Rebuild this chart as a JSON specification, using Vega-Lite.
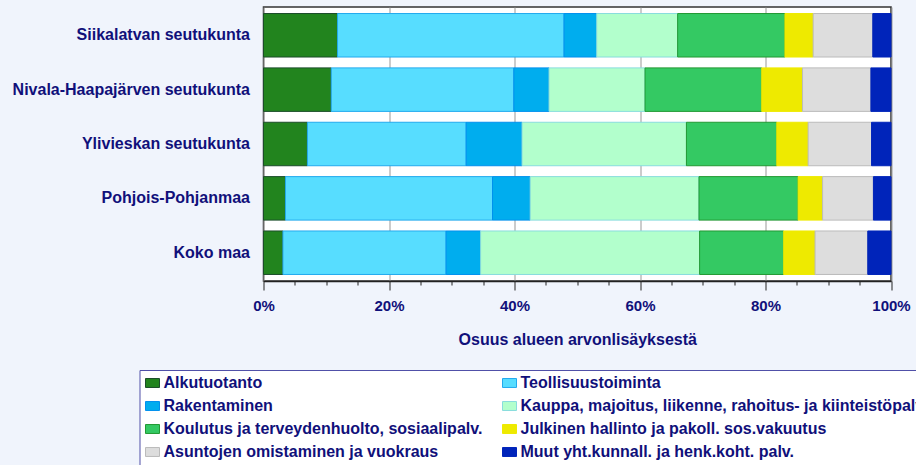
{
  "$schema": "https://vega.github.io/schema/vega-lite/v6.json",
  "autosize": {"type": "none"},
  "width": 627.5,
  "height": 274,
  "padding": {"left": 263.5, "top": 7, "right": 25, "bottom": 184},
  "background": "#F0F4FC",
  "config": {
    "view": {"fill": "white", "stroke": "#333333", "strokeWidth": 1.5},
    "font": "Liberation Sans"
  },
  "data": {
    "values": [
      {"region": "Siikalatvan seutukunta", "sector": "Alkutuotanto", "k": 1, "share": 11.8},
      {"region": "Siikalatvan seutukunta", "sector": "Teollisuustoiminta", "k": 2, "share": 36.1},
      {"region": "Siikalatvan seutukunta", "sector": "Rakentaminen", "k": 3, "share": 5.2},
      {"region": "Siikalatvan seutukunta", "sector": "Kauppa, majoitus, liikenne, rahoitus- ja kiinteistöpalv.", "k": 4, "share": 12.9},
      {"region": "Siikalatvan seutukunta", "sector": "Koulutus ja terveydenhuolto, sosiaalipalv.", "k": 5, "share": 17.1},
      {"region": "Siikalatvan seutukunta", "sector": "Julkinen hallinto ja pakoll. sos.vakuutus", "k": 6, "share": 4.5},
      {"region": "Siikalatvan seutukunta", "sector": "Asuntojen omistaminen ja vuokraus", "k": 7, "share": 9.5},
      {"region": "Siikalatvan seutukunta", "sector": "Muut yht.kunnall. ja henk.koht. palv.", "k": 8, "share": 2.9},
      {"region": "Nivala-Haapajärven seutukunta", "sector": "Alkutuotanto", "k": 1, "share": 10.8},
      {"region": "Nivala-Haapajärven seutukunta", "sector": "Teollisuustoiminta", "k": 2, "share": 29.1},
      {"region": "Nivala-Haapajärven seutukunta", "sector": "Rakentaminen", "k": 3, "share": 5.6},
      {"region": "Nivala-Haapajärven seutukunta", "sector": "Kauppa, majoitus, liikenne, rahoitus- ja kiinteistöpalv.", "k": 4, "share": 15.3},
      {"region": "Nivala-Haapajärven seutukunta", "sector": "Koulutus ja terveydenhuolto, sosiaalipalv.", "k": 5, "share": 18.6},
      {"region": "Nivala-Haapajärven seutukunta", "sector": "Julkinen hallinto ja pakoll. sos.vakuutus", "k": 6, "share": 6.5},
      {"region": "Nivala-Haapajärven seutukunta", "sector": "Asuntojen omistaminen ja vuokraus", "k": 7, "share": 10.9},
      {"region": "Nivala-Haapajärven seutukunta", "sector": "Muut yht.kunnall. ja henk.koht. palv.", "k": 8, "share": 3.2},
      {"region": "Ylivieskan seutukunta", "sector": "Alkutuotanto", "k": 1, "share": 7.0},
      {"region": "Ylivieskan seutukunta", "sector": "Teollisuustoiminta", "k": 2, "share": 25.3},
      {"region": "Ylivieskan seutukunta", "sector": "Rakentaminen", "k": 3, "share": 8.9},
      {"region": "Ylivieskan seutukunta", "sector": "Kauppa, majoitus, liikenne, rahoitus- ja kiinteistöpalv.", "k": 4, "share": 26.2},
      {"region": "Ylivieskan seutukunta", "sector": "Koulutus ja terveydenhuolto, sosiaalipalv.", "k": 5, "share": 14.4},
      {"region": "Ylivieskan seutukunta", "sector": "Julkinen hallinto ja pakoll. sos.vakuutus", "k": 6, "share": 5.0},
      {"region": "Ylivieskan seutukunta", "sector": "Asuntojen omistaminen ja vuokraus", "k": 7, "share": 10.1},
      {"region": "Ylivieskan seutukunta", "sector": "Muut yht.kunnall. ja henk.koht. palv.", "k": 8, "share": 3.1},
      {"region": "Pohjois-Pohjanmaa", "sector": "Alkutuotanto", "k": 1, "share": 3.5},
      {"region": "Pohjois-Pohjanmaa", "sector": "Teollisuustoiminta", "k": 2, "share": 33.0},
      {"region": "Pohjois-Pohjanmaa", "sector": "Rakentaminen", "k": 3, "share": 6.0},
      {"region": "Pohjois-Pohjanmaa", "sector": "Kauppa, majoitus, liikenne, rahoitus- ja kiinteistöpalv.", "k": 4, "share": 26.9},
      {"region": "Pohjois-Pohjanmaa", "sector": "Koulutus ja terveydenhuolto, sosiaalipalv.", "k": 5, "share": 15.8},
      {"region": "Pohjois-Pohjanmaa", "sector": "Julkinen hallinto ja pakoll. sos.vakuutus", "k": 6, "share": 3.9},
      {"region": "Pohjois-Pohjanmaa", "sector": "Asuntojen omistaminen ja vuokraus", "k": 7, "share": 8.1},
      {"region": "Pohjois-Pohjanmaa", "sector": "Muut yht.kunnall. ja henk.koht. palv.", "k": 8, "share": 2.8},
      {"region": "Koko maa", "sector": "Alkutuotanto", "k": 1, "share": 3.1},
      {"region": "Koko maa", "sector": "Teollisuustoiminta", "k": 2, "share": 26.0},
      {"region": "Koko maa", "sector": "Rakentaminen", "k": 3, "share": 5.5},
      {"region": "Koko maa", "sector": "Kauppa, majoitus, liikenne, rahoitus- ja kiinteistöpalv.", "k": 4, "share": 34.9},
      {"region": "Koko maa", "sector": "Koulutus ja terveydenhuolto, sosiaalipalv.", "k": 5, "share": 13.4},
      {"region": "Koko maa", "sector": "Julkinen hallinto ja pakoll. sos.vakuutus", "k": 6, "share": 5.0},
      {"region": "Koko maa", "sector": "Asuntojen omistaminen ja vuokraus", "k": 7, "share": 8.4},
      {"region": "Koko maa", "sector": "Muut yht.kunnall. ja henk.koht. palv.", "k": 8, "share": 3.7}
    ]
  },
  "mark": {"type": "bar", "strokeWidth": 1},
  "encoding": {
    "y": {
      "field": "region",
      "type": "nominal",
      "sort": ["Siikalatvan seutukunta", "Nivala-Haapajärven seutukunta", "Ylivieskan seutukunta", "Pohjois-Pohjanmaa", "Koko maa"],
      "scale": {"paddingInner": 0.2, "paddingOuter": 0.12},
      "axis": {
        "title": null,
        "ticks": false,
        "domain": false,
        "labelFontSize": 16,
        "labelFontWeight": "bold",
        "labelColor": "#10107A",
        "labelPadding": 14,
        "labelLimit": 300
      }
    },
    "x": {
      "field": "share",
      "type": "quantitative",
      "stack": "normalize",
      "scale": {"domain": [0, 1], "nice": false},
      "axis": {
        "title": "Osuus alueen arvonlisäyksestä",
        "titleFontSize": 16,
        "titleFontWeight": "bold",
        "titleColor": "#10107A",
        "titlePadding": 18,
        "values": [0, 0.05, 0.1, 0.15, 0.2, 0.25, 0.3, 0.35, 0.4, 0.45, 0.5, 0.55, 0.6, 0.65, 0.7, 0.75, 0.8, 0.85, 0.9, 0.95, 1],
        "labelExpr": "round(datum.value*100) % 20 === 0 ? format(datum.value, '.0%') : ''",
        "labelFontSize": 15,
        "labelFontWeight": "bold",
        "labelColor": "#10107A",
        "labelPadding": 8,
        "labelFlush": false,
        "domainColor": "#222222",
        "domainWidth": 1.5,
        "tickColor": "#222222",
        "tickSize": {"condition": {"test": "round(datum.value*100) % 20 === 0", "value": 9}, "value": 4},
        "grid": true,
        "gridColor": "#999999",
        "gridOpacity": {"condition": {"test": "round(datum.value*100) % 20 === 0", "value": 1}, "value": 0}
      }
    },
    "order": {"field": "k", "type": "quantitative"},
    "color": {
      "field": "sector",
      "type": "nominal",
      "scale": {
        "domain": ["Alkutuotanto", "Rakentaminen", "Koulutus ja terveydenhuolto, sosiaalipalv.", "Asuntojen omistaminen ja vuokraus", "Teollisuustoiminta", "Kauppa, majoitus, liikenne, rahoitus- ja kiinteistöpalv.", "Julkinen hallinto ja pakoll. sos.vakuutus", "Muut yht.kunnall. ja henk.koht. palv."],
        "range": ["#22841E", "#00ADEE", "#34C963", "#DDDDDD", "#57DDFF", "#B2FFCC", "#EEEA00", "#0024BA"]
      },
      "legend": {
        "title": null,
        "orient": "none",
        "legendX": -124,
        "legendY": 363,
        "columns": 2,
        "columnPadding": 18,
        "rowPadding": 7,
        "padding": 5,
        "fillColor": "white",
        "strokeColor": "#5050A8",
        "labelFontSize": 16,
        "labelFontWeight": "bold",
        "labelColor": "#10107A",
        "labelLimit": 600,
        "labelOffset": 3,
        "symbolType": "M-1,-0.64H1V0.64H-1Z",
        "symbolSize": 196,
        "symbolStrokeWidth": 1,
        "symbolOpacity": 1
      }
    },
    "stroke": {
      "field": "sector",
      "type": "nominal",
      "scale": {
        "domain": ["Alkutuotanto", "Rakentaminen", "Koulutus ja terveydenhuolto, sosiaalipalv.", "Asuntojen omistaminen ja vuokraus", "Teollisuustoiminta", "Kauppa, majoitus, liikenne, rahoitus- ja kiinteistöpalv.", "Julkinen hallinto ja pakoll. sos.vakuutus", "Muut yht.kunnall. ja henk.koht. palv."],
        "range": ["#1B4D2A", "#0090EE", "#229933", "#BBBBBB", "#22AAEE", "#88DDDD", "#EEEA00", "#0024BA"]
      },
      "legend": null
    }
  }
}
